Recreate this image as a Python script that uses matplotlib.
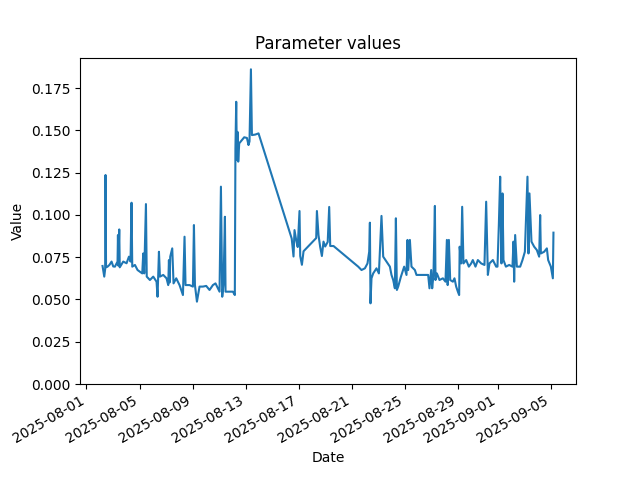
import matplotlib
matplotlib.use("Agg")
import matplotlib.pyplot as plt
import pandas as pd

# Timestamps and the parameter value at each one
times = [
    "08-02 05:05", "08-02 08:10", "08-02 09:50", "08-02 10:30", "08-02 11:25",
    "08-02 14:08", "08-02 17:44", "08-02 21:22", "08-03 00:26", "08-03 03:30",
    "08-03 08:12", "08-03 08:56", "08-03 09:39", "08-03 11:17", "08-03 12:11",
    "08-03 18:30", "08-04 00:29", "08-04 04:48", "08-04 07:41", "08-04 09:30",
    "08-04 10:47", "08-04 15:39", "08-04 20:21", "08-05 00:42", "08-05 04:51",
    "08-05 06:39", "08-05 08:27", "08-05 11:31", "08-05 12:58", "08-05 18:43",
    "08-06 00:43", "08-06 06:41", "08-06 08:30", "08-06 11:02", "08-06 12:50",
    "08-06 18:47", "08-07 00:43", "08-07 03:50", "08-07 05:05", "08-07 06:11",
    "08-07 07:26", "08-07 11:04", "08-07 13:25", "08-07 18:17", "08-08 00:15",
    "08-08 06:24", "08-08 09:17", "08-08 11:05", "08-08 18:19", "08-09 00:26",
    "08-09 02:17", "08-09 04:05", "08-09 07:42", "08-09 12:24", "08-09 18:29",
    "08-10 00:29", "08-10 06:29", "08-10 12:36", "08-10 17:17", "08-10 21:39",
    "08-11 00:33", "08-11 03:04", "08-11 05:25", "08-11 07:47", "08-11 10:18",
    "08-11 11:23", "08-11 18:37", "08-12 00:44", "08-12 04:12", "08-12 05:17",
    "08-12 06:43", "08-12 07:55", "08-12 09:04", "08-12 10:20", "08-12 12:08",
    "08-12 17:01", "08-12 21:09", "08-13 02:04", "08-13 04:56", "08-13 06:44",
    "08-13 09:17", "08-13 11:05", "08-13 17:03", "08-13 23:02", "08-16 11:02",
    "08-16 14:17", "08-16 16:05", "08-16 19:09", "08-16 21:52", "08-17 01:07",
    "08-17 02:24", "08-17 05:27", "08-17 08:24", "08-18 07:18", "08-18 08:34",
    "08-18 11:27", "08-18 14:31", "08-18 17:35", "08-18 20:29", "08-18 23:32",
    "08-19 04:05", "08-19 06:47", "08-19 08:38", "08-19 14:34", "08-21 11:12",
    "08-21 17:11", "08-21 23:17", "08-22 04:00", "08-22 07:05", "08-22 08:21",
    "08-22 09:26", "08-22 11:14", "08-22 14:18", "08-22 20:16", "08-23 00:37",
    "08-23 05:18", "08-23 08:23", "08-23 14:21", "08-23 20:29", "08-23 23:23",
    "08-24 02:27", "08-24 05:31", "08-24 07:20", "08-24 09:07", "08-24 11:29",
    "08-24 16:22", "08-24 22:20", "08-25 02:30", "08-25 04:19", "08-25 05:34",
    "08-25 08:38", "08-25 11:31", "08-25 17:40", "08-25 20:34", "08-26 17:42",
    "08-26 20:04", "08-26 23:08", "08-27 00:56", "08-27 03:17", "08-27 05:50",
    "08-27 06:55", "08-27 09:26", "08-27 14:08", "08-27 20:17", "08-28 00:58",
    "08-28 03:30", "08-28 04:56", "08-28 07:07", "08-28 09:29", "08-28 14:21",
    "08-28 17:14", "08-28 20:18", "08-28 23:22", "08-29 01:41", "08-29 02:38",
    "08-29 05:17", "08-29 07:09", "08-29 09:30", "08-29 14:24", "08-29 19:12",
    "08-29 23:25", "08-30 02:24", "08-30 07:12", "08-30 11:31", "08-30 17:31",
    "08-30 23:27", "08-31 02:31", "08-31 05:35", "08-31 08:29", "08-31 14:38",
    "08-31 20:35", "08-31 22:57", "09-01 01:26", "09-01 03:50", "09-01 06:11",
    "09-01 08:00", "09-01 09:48", "09-01 14:10", "09-01 20:05", "09-02 02:04",
    "09-02 03:52", "09-02 05:08", "09-02 06:56", "09-02 10:00", "09-02 15:59",
    "09-02 20:10", "09-03 00:29", "09-03 05:11", "09-03 07:00", "09-03 08:47",
    "09-03 12:24", "09-03 17:17", "09-03 22:09", "09-04 02:18", "09-04 04:07",
    "09-04 05:24", "09-04 11:21", "09-04 16:14", "09-04 18:35", "09-04 23:27",
    "09-05 03:04", "09-05 04:09",
]

values = [
    0.0698, 0.0635, 0.0680, 0.1236, 0.0690,
    0.0694, 0.0705, 0.0724, 0.0695, 0.0694,
    0.0724, 0.0881, 0.0700, 0.0914, 0.0690,
    0.0724, 0.0714, 0.0753, 0.0724, 0.1072,
    0.0694, 0.0704, 0.0674, 0.0664, 0.0654,
    0.0772, 0.0654, 0.1064, 0.0635, 0.0615,
    0.0635, 0.0605, 0.0516, 0.0782, 0.0635,
    0.0645, 0.0625, 0.0585, 0.0733, 0.0600,
    0.0753, 0.0802, 0.0595, 0.0625, 0.0585,
    0.0526, 0.0871, 0.0585, 0.0585, 0.0576,
    0.0940, 0.0585, 0.0487, 0.0576, 0.0576,
    0.0580, 0.0556, 0.0585, 0.0595, 0.0566,
    0.0546, 0.1167, 0.0516, 0.0595, 0.0989,
    0.0546, 0.0546, 0.0546, 0.0526, 0.1393,
    0.1669, 0.1325, 0.1491, 0.1315, 0.1423,
    0.1443, 0.1459, 0.1455, 0.1413, 0.1435,
    0.1861, 0.1472, 0.1475, 0.1482, 0.0860,
    0.0754, 0.0910, 0.0850, 0.0810, 0.1023,
    0.0757, 0.0705, 0.0785, 0.0863, 0.1023,
    0.0880, 0.0810, 0.0757, 0.0842, 0.0813,
    0.0840, 0.1047, 0.0816, 0.0816, 0.0694,
    0.0674, 0.0684, 0.0713, 0.0782, 0.0954,
    0.0477, 0.0625, 0.0654, 0.0684, 0.0654,
    0.0994, 0.0753, 0.0724, 0.0694, 0.0645,
    0.0615, 0.0566, 0.0980, 0.0556, 0.0576,
    0.0634, 0.0694, 0.0645, 0.0852, 0.0674,
    0.0852, 0.0694, 0.0674, 0.0645, 0.0645,
    0.0566, 0.0674, 0.0566, 0.0645, 0.1053,
    0.0615, 0.0654, 0.0615, 0.0625, 0.0605,
    0.0852, 0.0585, 0.0852, 0.0615, 0.0605,
    0.0625, 0.0576, 0.0546, 0.0526, 0.0812,
    0.0713, 0.1048, 0.0713, 0.0733, 0.0694,
    0.0713, 0.0733, 0.0694, 0.0733, 0.0713,
    0.0704, 0.1078, 0.0645, 0.0713, 0.0733,
    0.0694, 0.0694, 0.0940, 0.1226, 0.0713,
    0.1127, 0.0733, 0.0694, 0.0704, 0.0694,
    0.0842, 0.0605, 0.0881, 0.0694, 0.0694,
    0.0733, 0.0782, 0.1226, 0.0772, 0.1127,
    0.0842, 0.0812, 0.0792, 0.0753, 0.0999,
    0.0772, 0.0782, 0.0802, 0.0733, 0.0694,
    0.0625, 0.0895,
]

dates = pd.to_datetime(["2025-" + t for t in times])

fig, ax = plt.subplots(figsize=(6.4, 4.8), dpi=100)
ax.plot(dates, values)
ax.set_ylim(bottom=0)
ax.set_title("Parameter values")
ax.set_xlabel("Date")
ax.set_ylabel("Value")
fig.autofmt_xdate()

fig.savefig("out.png")
